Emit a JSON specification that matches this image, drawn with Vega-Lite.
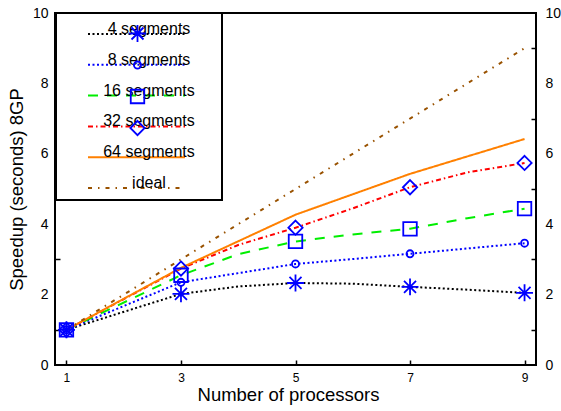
{
  "$schema": "https://vega.github.io/schema/vega-lite/v6.json",
  "width": 481,
  "height": 352,
  "autosize": {"type": "none"},
  "padding": {"left": 55, "top": 13, "right": 25, "bottom": 46},
  "background": "white",
  "datasets": {
    "speedup": [
      {"series": "4 segments", "x": 1, "y": 1.0},
      {"series": "4 segments", "x": 3, "y": 2.02},
      {"series": "4 segments", "x": 4, "y": 2.23},
      {"series": "4 segments", "x": 5, "y": 2.33},
      {"series": "4 segments", "x": 6, "y": 2.31},
      {"series": "4 segments", "x": 7, "y": 2.22},
      {"series": "4 segments", "x": 8, "y": 2.14},
      {"series": "4 segments", "x": 9, "y": 2.05},
      {"series": "8 segments", "x": 1, "y": 1.0},
      {"series": "8 segments", "x": 3, "y": 2.35},
      {"series": "8 segments", "x": 4, "y": 2.61},
      {"series": "8 segments", "x": 5, "y": 2.87},
      {"series": "8 segments", "x": 6, "y": 3.01},
      {"series": "8 segments", "x": 7, "y": 3.16},
      {"series": "8 segments", "x": 8, "y": 3.31},
      {"series": "8 segments", "x": 9, "y": 3.46},
      {"series": "16 segments", "x": 1, "y": 1.0},
      {"series": "16 segments", "x": 3, "y": 2.55},
      {"series": "16 segments", "x": 4, "y": 3.15},
      {"series": "16 segments", "x": 5, "y": 3.51},
      {"series": "16 segments", "x": 6, "y": 3.71},
      {"series": "16 segments", "x": 7, "y": 3.87},
      {"series": "16 segments", "x": 8, "y": 4.17},
      {"series": "16 segments", "x": 9, "y": 4.44},
      {"series": "32 segments", "x": 1, "y": 1.0},
      {"series": "32 segments", "x": 3, "y": 2.74},
      {"series": "32 segments", "x": 4, "y": 3.41},
      {"series": "32 segments", "x": 5, "y": 3.9},
      {"series": "32 segments", "x": 6, "y": 4.45},
      {"series": "32 segments", "x": 7, "y": 5.05},
      {"series": "32 segments", "x": 8, "y": 5.47},
      {"series": "32 segments", "x": 9, "y": 5.74},
      {"series": "64 segments", "x": 1, "y": 1.0},
      {"series": "64 segments", "x": 3, "y": 2.76},
      {"series": "64 segments", "x": 5, "y": 4.27},
      {"series": "64 segments", "x": 7, "y": 5.43},
      {"series": "64 segments", "x": 9, "y": 6.42},
      {"series": "ideal", "x": 1, "y": 1},
      {"series": "ideal", "x": 3, "y": 3},
      {"series": "ideal", "x": 5, "y": 5},
      {"series": "ideal", "x": 7, "y": 7},
      {"series": "ideal", "x": 9, "y": 9}
    ]
  },
  "data": {"name": "speedup"},
  "encoding": {
    "x": {
      "field": "x",
      "type": "quantitative",
      "scale": {"domain": [0.8, 9.2], "nice": false, "zero": false},
      "axis": {
        "values": [1, 3, 5, 7, 9],
        "title": "Number of processors",
        "labelFontSize": 12,
        "labelPadding": 12,
        "titlePadding": 2,
        "titleX": 233
      }
    }
  },
  "layer": [
    {
      "mark": {"type": "line", "strokeWidth": 2},
      "encoding": {
        "y": {
          "field": "y",
          "type": "quantitative",
          "scale": {"domain": [0, 10], "nice": false},
          "axis": {
            "orient": "left",
            "values": [0, 1, 2, 3, 4, 5, 6, 7, 8, 9, 10],
            "title": "Speedup (seconds) 8GP",
            "labelFontSize": 14,
            "labelPadding": 12,
            "titlePadding": 6,
            "labelExpr": "datum.value % 2 === 0 ? datum.label : ''",
            "tickOpacity": {"condition": {"test": "datum.value % 2 === 1", "value": 1}, "value": 0}
          }
        },
        "color": {
          "field": "series",
          "type": "nominal",
          "scale": {
            "domain": ["4 segments", "8 segments", "16 segments", "32 segments", "64 segments", "ideal"],
            "range": ["#000000", "#0000ff", "#00ee00", "#ff0000", "#ff8000", "#995200"]
          },
          "legend": {
            "title": null,
            "orient": "none",
            "legendX": 1,
            "legendY": 0,
            "padding": 7.5,
            "strokeColor": "black",
            "fillColor": "white",
            "symbolType": "M-4,0L4,0M6.1,0",
            "symbolSize": 588,
            "symbolStrokeWidth": 2,
            "symbolOffset": 59.5,
            "labelFontSize": 16,
            "labelAlign": "center",
            "labelBaseline": "alphabetic",
            "labelOffset": -1,
            "rowPadding": 12.8,
            "zindex": 1
          }
        },
        "strokeDash": {
          "field": "series",
          "type": "nominal",
          "scale": {
            "domain": ["4 segments", "8 segments", "16 segments", "32 segments", "64 segments", "ideal"],
            "range": [[2, 2.5], [2, 2.5], [10, 9], [5, 3, 1.5, 3], [1, 0], [4, 6, 1.5, 6]]
          }
        }
      }
    },
    {
      "transform": [
        {"filter": {"field": "series", "oneOf": ["4 segments", "8 segments", "16 segments", "32 segments"]}},
        {"filter": "datum.x % 2 === 1"}
      ],
      "mark": {"type": "point", "filled": false, "strokeWidth": 1.8, "color": "#0000ff", "opacity": 1, "size": 225},
      "encoding": {
        "y": {
          "field": "y",
          "type": "quantitative",
          "axis": {
            "orient": "right",
            "values": [0, 1, 2, 3, 4, 5, 6, 7, 8, 9, 10],
            "title": null,
            "labelFontSize": 14,
            "labelPadding": 14,
            "labelExpr": "datum.value % 2 === 0 ? datum.label : ''",
            "tickOpacity": {"condition": {"test": "datum.value % 2 === 1", "value": 1}, "value": 0}
          }
        },
        "shape": {
          "field": "series",
          "type": "nominal",
          "scale": {
            "domain": ["4 segments", "8 segments", "16 segments", "32 segments"],
            "range": [
              "M-1.13,0L1.13,0M0,-1.13L0,1.13M-0.8,-0.8L0.8,0.8M-0.8,0.8L0.8,-0.8M-1.2,-1.2M1.2,1.2",
              "M0.47,0A0.47,0.47,0,1,1,-0.47,0A0.47,0.47,0,1,1,0.47,0ZM-1.2,-1.2M1.2,1.2",
              "M-0.9,-0.9L0.9,-0.9L0.9,0.9L-0.9,0.9ZM-1.2,-1.2M1.2,1.2",
              "M0,-0.95L0.95,0L0,0.95L-0.95,0ZM-1.2,-1.2M1.2,1.2"
            ]
          },
          "legend": {
            "title": null,
            "orient": "none",
            "legendX": 74,
            "legendY": 12,
            "padding": 0,
            "symbolSize": 225,
            "symbolStrokeWidth": 1.8,
            "symbolStrokeColor": "#0000ff",
            "symbolFillColor": "transparent",
            "labelExpr": "''",
            "labelFontSize": 1,
            "rowPadding": 4.5,
            "zindex": 2
          }
        }
      }
    }
  ],
  "resolve": {"axis": {"y": "independent"}},
  "config": {
    "font": "Liberation Sans",
    "view": {"stroke": "black", "strokeWidth": 2},
    "axis": {
      "grid": false,
      "domain": false,
      "tickColor": "black",
      "tickWidth": 1.5,
      "tickSize": -5,
      "labelColor": "black",
      "labelFont": "Liberation Sans",
      "labelOverlap": false,
      "labelFlush": false,
      "titleFont": "Liberation Sans",
      "titleFontWeight": "normal",
      "titleFontSize": 18.5,
      "titleColor": "black"
    },
    "legend": {
      "labelFont": "Liberation Sans",
      "labelColor": "black",
      "symbolOpacity": 1,
      "strokeWidth": 2
    }
  }
}
